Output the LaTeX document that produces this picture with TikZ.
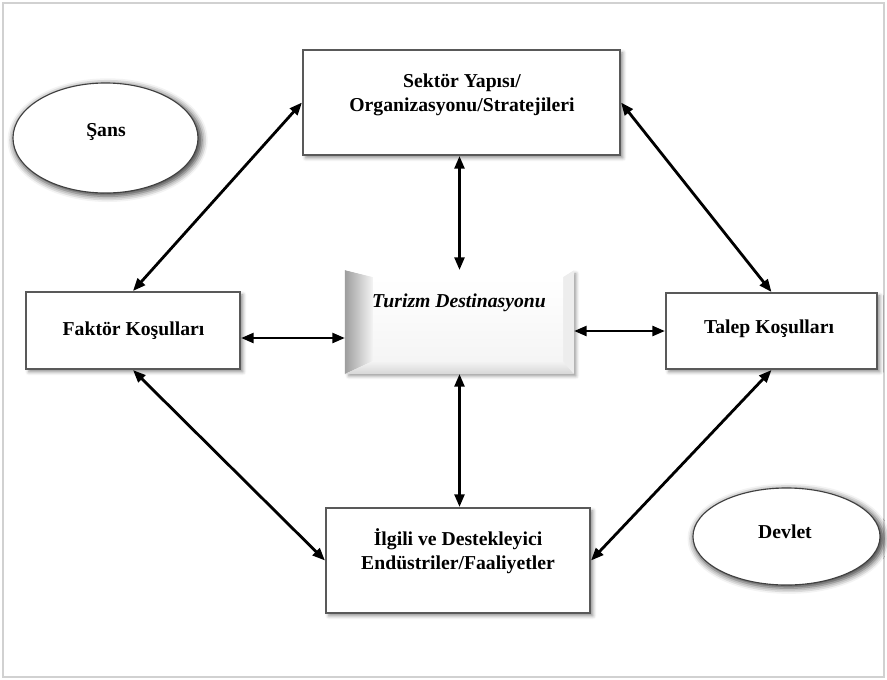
\documentclass[tikz,border=0pt]{standalone}
\usepackage{fontspec}
\setmainfont{Liberation Serif}
\usetikzlibrary{arrows.meta,shapes.geometric,shadows,shadows.blur}

\begin{document}
\begin{tikzpicture}[x=0.025cm,y=-0.025cm,
  kutu/.style={draw=black!65,line width=1.4pt,fill=white,inner sep=0pt,
    blur shadow={shadow xshift=2pt,shadow yshift=-2pt,shadow blur radius=2.5pt,shadow opacity=45}},
  halka/.style={ellipse,draw=black!75,line width=0.8pt,fill=white,inner sep=0pt,
    blur shadow={shadow xshift=1.5pt,shadow yshift=-1.5pt,shadow blur radius=4pt,shadow scale=1.02,shadow opacity=75}},
  yazi/.style={align=center,font=\bfseries\fontsize{14}{17}\selectfont},
  ok/.style={{Triangle[length=9pt,width=7pt]}-{Triangle[length=9pt,width=7pt]},line width=2pt}]
\useasboundingbox (0,0) rectangle (887,679);
\draw[black!18,line width=1.2pt] (3,3) rectangle (884,677);

\coordinate (sekC) at (461.5,102.5);
\coordinate (turC) at (459.5,322);
\coordinate (ilgC) at (458,560.5);
\coordinate (fakC) at (133,330.5);
\coordinate (talC) at (771.5,331);
\coordinate (sansC) at (105.5,138);
\coordinate (devC) at (786.5,536.5);

% pomocne tocke
\coordinate (sol) at (0,338);
\coordinate (b1) at (373,277);
\coordinate (b2) at (563,277);
\coordinate (b3) at (563,361);
\coordinate (b4) at (373,361);

\node[halka,minimum width=4.625cm,minimum height=2.75cm] (sans) at (sansC) {};
\node[halka,minimum width=4.675cm,minimum height=2.425cm] (dev) at (devC) {};
\node[kutu,minimum width=7.925cm,minimum height=2.625cm] (sek) at (sekC) {};
\node[kutu,minimum width=6.6cm,minimum height=2.625cm] (ilg) at (ilgC) {};
\node[kutu,minimum width=5.35cm,minimum height=1.925cm] (fak) at (fakC) {};
\node[kutu,minimum width=5.275cm,minimum height=1.9cm] (tal) at (talC) {};
\node[kutu,draw=none,fill=black!3,minimum width=5.675cm,minimum height=2.55cm] (tur) at (turC) {};

% kabartma
\shade[left color=black!38,right color=black!4] (tur.north west) -- (b1) -- (b4) -- (tur.south west) -- cycle;
\shade[top color=black!4,bottom color=black!16] (tur.south west) -- (b4) -- (b3) -- (tur.south east) -- cycle;
\fill[black!7] (tur.north east) -- (b2) -- (b3) -- (tur.south east) -- cycle;
\fill[white] (tur.north west) -- (b1) -- (b2) -- (tur.north east) -- cycle;
\shade[top color=white,bottom color=black!4] (b1) rectangle (b3);

\node[yazi] (sekY) at (462,95) {Sektör Yapısı/\\Organizasyonu/Stratejileri};
\node[yazi] (ilgY) at (458,551) {İlgili ve Destekleyici\\Endüstriler/Faaliyetler};
\node[yazi] (fakY) at (133.5,331) {Faktör Koşulları};
\node[yazi] (talY) at (769,329) {Talep Koşulları};
\node[yazi,font=\bfseries\itshape\fontsize{14}{17}\selectfont] (turY) at (459,303) {Turizm Destinasyonu};
\node[yazi] (sansY) at (106,132) {Şans};
\node[yazi] (devY) at (785,532) {Devlet};

\draw[ok] (fak.north) -- (sek.west);
\draw[ok] (sek.east) -- (tal.north);
\draw[ok] (fak.south) -- (ilg.west);
\draw[ok] (tal.south) -- (ilg.east);
\draw[ok] (tur.north |- sek.south) -- (tur.north);
\draw[ok] (tur.south) -- (tur.south |- ilg.north);
\draw[ok] (fak.east |- sol) -- (tur.west |- sol);
\draw[ok] (tur.east |- tal.west) -- (tal.west);
\end{tikzpicture}
\end{document}
